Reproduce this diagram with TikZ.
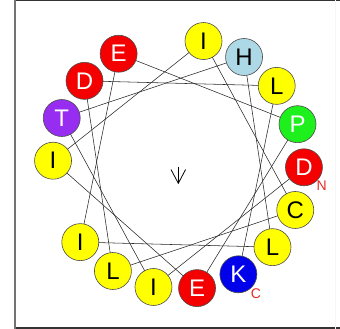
\documentclass[tikz,border=0pt]{standalone}
\usepackage{fontspec}
\setmainfont{Liberation Sans}
\definecolor{resyellow}{RGB}{255,255,0}
\definecolor{resred}{RGB}{245,0,0}
\definecolor{resblue}{RGB}{0,0,235}
\definecolor{resgreen}{RGB}{30,240,30}
\definecolor{respurple}{RGB}{150,45,240}
\definecolor{reslblue}{RGB}{173,216,230}
\definecolor{termred}{RGB}{230,40,40}
\begin{document}
\begin{tikzpicture}[x=1pt,y=-1pt,
  res/.style={circle,draw=black!70,line width=0.6pt,minimum size=37pt,inner sep=0pt,outer sep=0pt,
    font=\fontsize{24}{24}\selectfont},
  ylw/.style={res,fill=resyellow,text=black},
  red/.style={res,fill=resred,text=white},
  blu/.style={res,fill=resblue,text=white},
  grn/.style={res,fill=resgreen,text=white},
  pur/.style={res,fill=respurple,text=white},
  lbl/.style={res,fill=reslblue,text=black},
  link/.style={draw=black!85,line width=0.55pt},
  term/.style={text=termred,font=\fontsize{14}{14}\selectfont,inner sep=0pt},
  frameline/.style={draw=black!80,line width=1.5pt}
]
\useasboundingbox (0,0) rectangle (340,329);
% frame
\draw[frameline] (15,0.75) -- (340,0.75);
\draw[frameline] (15,328) -- (340,328);
\draw[draw=black!55,line width=1.5pt] (15,0) -- (15,329);
\draw[draw=black!4,line width=0.8pt] (335,0) -- (335,329);
% residues
\foreach \i/\s/\l in {1/red/D,2/ylw/I,3/pur/T,4/lbl/H,5/ylw/L,6/ylw/I,7/red/E,8/grn/P,
                      9/red/E,10/ylw/I,11/ylw/I,12/ylw/C,13/ylw/L,14/red/D,15/ylw/L,16/blu/K}{
  \pgfmathsetmacro\a{-1.5-100*(\i-1)}
  \node[\s] (r\i) at ({178.5+125.5*cos(\a)},{164-125.5*sin(\a)}) {\l};
}
% connectors
\foreach \i [evaluate=\i as \j using int(\i+1)] in {1,...,15}{
  \draw[link] (r\i) -- (r\j);
}
% terminal labels
\node[term] (nterm) at (321.7,186) {N};
\node[term] (cterm) at (256,293.3) {C};
% central arrow
\draw[line width=0.8pt] (178.3,166.5) -- (178.3,183);
\draw[line width=0.8pt,line join=miter] (171,169.5) -- (178.3,183.3) -- (185.6,169.5);
\end{tikzpicture}
\end{document}
